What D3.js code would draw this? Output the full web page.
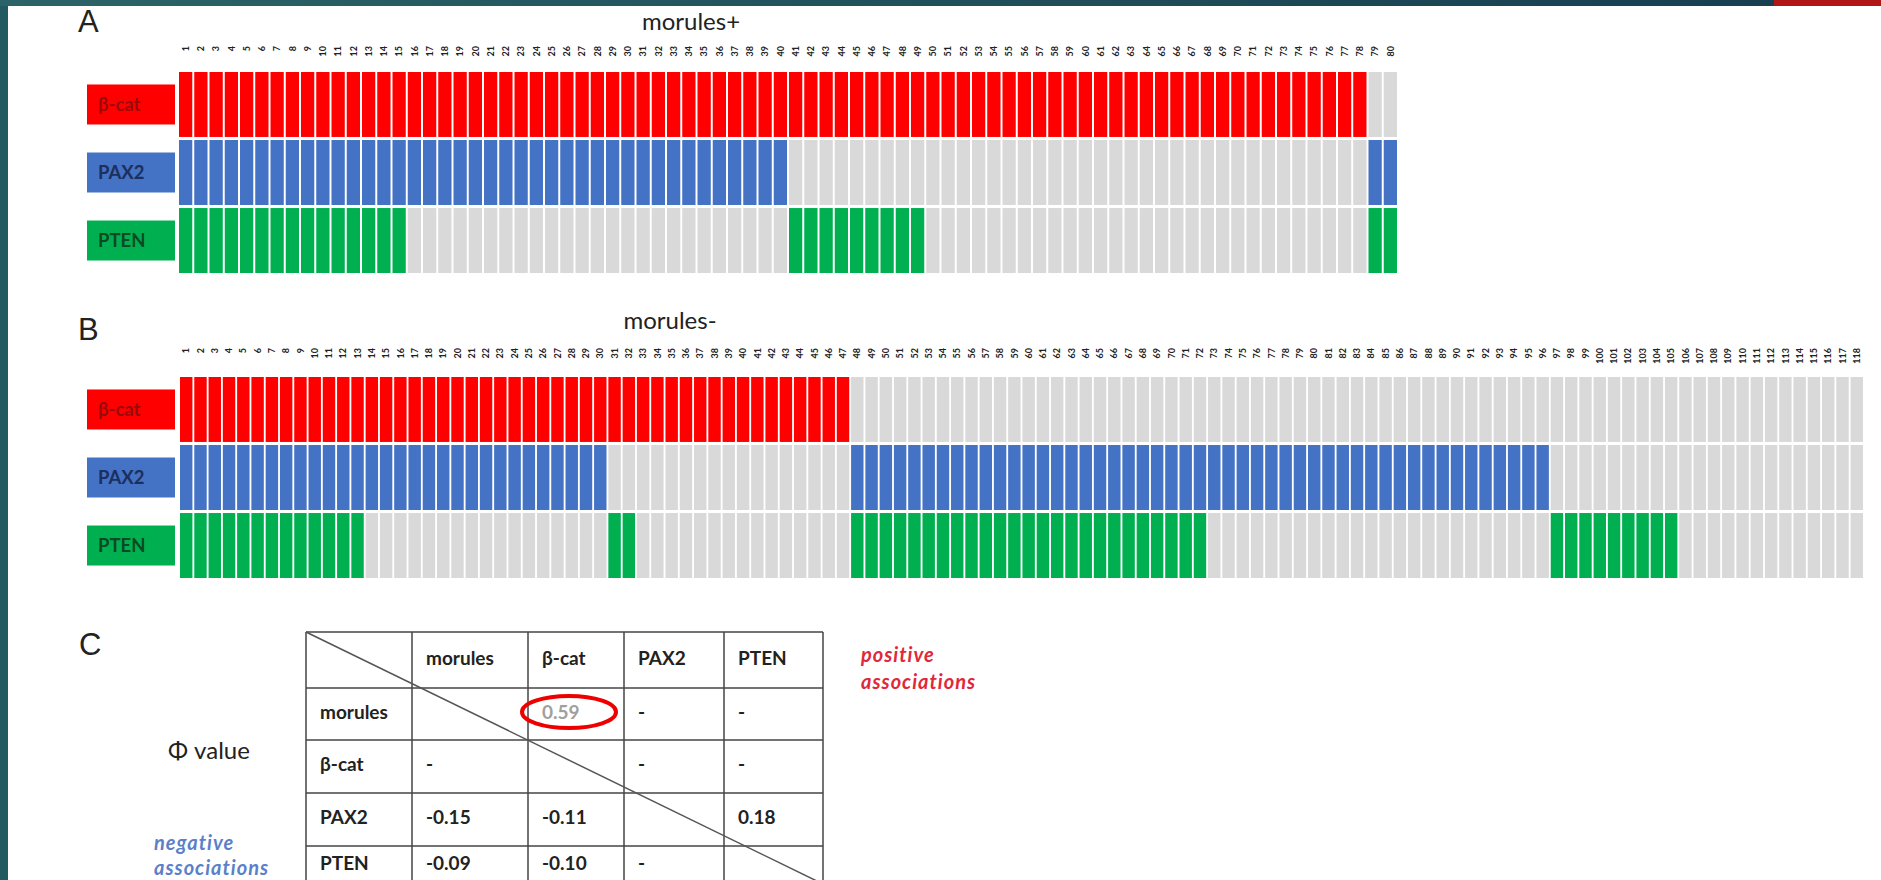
<!DOCTYPE html>
<html>
<head>
<meta charset="utf-8">
<script src="https://cdn.jsdelivr.net/npm/d3@7"></script>
<style>
  html, body { margin: 0; padding: 0; background: #ffffff; overflow: hidden; }
  svg { display: block; }
</style>
</head>
<body>
<svg id="chart"></svg>
<script>

/////////////////////////////////
// DATA
//////////////////////////////////

// one character per case: 1 = positive (coloured), 0 = negative (grey)
var genes = ["β-cat", "PAX2", "PTEN"];

var morulesPos_bcat = "11111111111111111111111111111111111111111111111111111111111111111111111111111100";
var morulesPos_pax2 = "11111111111111111111111111111111111111110000000000000000000000000000000000000011";
var morulesPos_pten = "11111111111111100000000000000000000000001111111110000000000000000000000000000011";

var morulesNeg_bcat = "1111111111111111111111111111111111111111111111100000000000000000000000000000000000000000000000000000000000000000000000";
var morulesNeg_pax2 = "1111111111111111111111111111110000000000000000011111111111111111111111111111111111111111111111110000000000000000000000";
var morulesNeg_pten = "1111111111111000000000000000001100000000000000011111111111111111111111110000000000000000000000001111111110000000000000";

// phi values table
var tableHeaders = ["morules", "β-cat", "PAX2", "PTEN"];
var phiMorules = ["", "0.59", "-", "-"];
var phiBcat = ["-", "", "-", "-"];
var phiPax2 = ["-0.15", "-0.11", "", "0.18"];
var phiPten = ["-0.09", "-0.10", "-", ""];

/////////////////////////////////
// SET STATIC VARIABLES
//////////////////////////////////

var width = 1881;
var height = 880;

var geneColors = ["#ff0000", "#4472c4", "#00b050"];
var geneTextColors = ["#9b0a0a", "#1c2f5e", "#0b4a22"];
var emptyColor = "#d9d9d9";

var svg = d3.select("#chart")
    .attr("width", width)
    .attr("height", height);

// slide frame
var defs = svg.append("defs");
var grad = defs.append("linearGradient").attr("id", "topbar");
grad.append("stop").attr("offset", "0%").attr("stop-color", "#2b6468");
grad.append("stop").attr("offset", "100%").attr("stop-color", "#173f50");

svg.append("rect").attr("x", 0).attr("y", 0).attr("width", 8).attr("height", height).attr("fill", "#215a60");
svg.append("rect").attr("x", 0).attr("y", 0).attr("width", 1774).attr("height", 6).attr("fill", "url(#topbar)");
svg.append("rect").attr("x", 1774).attr("y", 0).attr("width", width - 1774).attr("height", 6).attr("fill", "#b01616");

/////////////////////////////////
// HEATMAP PANELS
//////////////////////////////////

function drawPanel(p) {
    var rows = p.rows.map(function(s) { return s.split("").map(Number); });
    var n = rows[0].length;
    var cases = d3.range(1, n + 1);

    var x = d3.scaleBand()
        .domain(cases)
        .range([p.x0, p.x1])
        .paddingInner(0.13);

    var y = d3.scaleBand()
        .domain(genes)
        .range([p.y0, p.y1])
        .paddingInner(0.045);

    var g = svg.append("g");

    // panel letter and title
    g.append("text")
        .attr("x", 78)
        .attr("y", p.letterY)
        .attr("font-family", "Liberation Sans, Arial, sans-serif")
        .attr("font-size", 31)
        .attr("fill", "#222")
        .text(p.letter);

    g.append("text")
        .attr("x", p.titleX)
        .attr("y", p.titleY)
        .attr("text-anchor", "middle")
        .attr("font-family", "Lato, sans-serif")
        .attr("font-size", 24)
        .attr("fill", "#222")
        .text(p.title);

    // case numbers
    g.selectAll(".tick")
        .data(cases)
        .enter().append("text")
        .attr("transform", function(d) {
            return "translate(" + (x(d) + x.bandwidth() / 2) + "," + p.tickY + ") rotate(-90)";
        })
        .attr("text-anchor", "end")
        .attr("dy", "0.35em")
        .attr("font-family", "Lato, sans-serif")
        .attr("font-weight", "bold")
        .attr("font-size", 9)
        .attr("fill", "#222")
        .text(function(d) { return d; });

    // row labels and cells
    genes.forEach(function(gene, i) {
        var cy = y(gene) + y.bandwidth() / 2;
        g.append("rect")
            .attr("x", 87)
            .attr("y", cy - 20)
            .attr("width", 88)
            .attr("height", 40)
            .attr("fill", geneColors[i]);
        g.append("text")
            .attr("x", 98)
            .attr("y", cy)
            .attr("dy", "0.35em")
            .attr("font-family", "Lato, sans-serif")
            .attr("font-weight", "bold")
            .attr("font-size", 18.5)
            .attr("fill", geneTextColors[i])
            .text(gene);

        g.selectAll(".cell" + i)
            .data(rows[i])
            .enter().append("rect")
            .attr("x", function(d, j) { return x(cases[j]); })
            .attr("y", y(gene))
            .attr("width", x.bandwidth())
            .attr("height", y.bandwidth())
            .attr("fill", function(d) { return d ? geneColors[i] : emptyColor; });
    });
}

drawPanel({
    letter: "A", letterY: 32,
    title: "morules+", titleX: 691, titleY: 30,
    x0: 179, x1: 1397, y0: 72, y1: 273, tickY: 46,
    rows: [morulesPos_bcat, morulesPos_pax2, morulesPos_pten]
});

drawPanel({
    letter: "B", letterY: 340,
    title: "morules-", titleX: 670, titleY: 329,
    x0: 180, x1: 1863, y0: 377, y1: 578, tickY: 348,
    rows: [morulesNeg_bcat, morulesNeg_pax2, morulesNeg_pten]
});

/////////////////////////////////
// PHI TABLE
//////////////////////////////////

var tableRows = [phiMorules, phiBcat, phiPax2, phiPten];
var colWidths = [106, 116, 96, 100, 99];
var rowHeights = [56, 52, 53, 53, 38];
var tableLeft = 306, tableTop = 632;

var colX = [tableLeft];
colWidths.forEach(function(w, i) { colX.push(colX[i] + w); });
var rowY = [tableTop];
rowHeights.forEach(function(h, i) { rowY.push(rowY[i] + h); });
var tableRight = colX[colX.length - 1];
var tableBottom = rowY[rowY.length - 1];

var tg = svg.append("g");

tg.append("text")
    .attr("x", 79).attr("y", 655)
    .attr("font-family", "Liberation Sans, Arial, sans-serif")
    .attr("font-size", 31)
    .attr("fill", "#222")
    .text("C");

rowY.forEach(function(ry) {
    tg.append("line")
        .attr("x1", tableLeft).attr("x2", tableRight)
        .attr("y1", ry).attr("y2", ry)
        .attr("stroke", "#444").attr("stroke-width", 1.5);
});
colX.forEach(function(cx) {
    tg.append("line")
        .attr("x1", cx).attr("x2", cx)
        .attr("y1", tableTop).attr("y2", tableBottom)
        .attr("stroke", "#444").attr("stroke-width", 1.5);
});
tg.append("line")
    .attr("x1", tableLeft).attr("y1", tableTop)
    .attr("x2", tableRight).attr("y2", tableBottom)
    .attr("stroke", "#555").attr("stroke-width", 1.5);

function cellText(txt, c, r, color) {
    tg.append("text")
        .attr("x", colX[c] + 14)
        .attr("y", rowY[r] + rowHeights[r] / 2 - 2)
        .attr("dy", "0.35em")
        .attr("font-family", "Lato, sans-serif")
        .attr("font-weight", "bold")
        .attr("font-size", 19)
        .attr("fill", color || "#222")
        .text(txt);
}

tableHeaders.forEach(function(h, i) {
    cellText(h, i + 1, 0);
    cellText(h, 0, i + 1);
});
tableRows.forEach(function(row, r) {
    row.forEach(function(v, c) {
        if (v === "") return;
        var color = (r === 0 && c === 1) ? "#a0a0a0" : "#222";
        cellText(v, c + 1, r + 1, color);
    });
});

// highlight ring round the strongest association
tg.append("ellipse")
    .attr("cx", colX[2] + 41)
    .attr("cy", rowY[1] + rowHeights[1] / 2 - 2)
    .attr("rx", 47)
    .attr("ry", 16)
    .attr("fill", "none")
    .attr("stroke", "#ee0000")
    .attr("stroke-width", 4);

tg.append("text")
    .attr("x", 168).attr("y", 759)
    .attr("font-family", "Lato, sans-serif")
    .attr("font-size", 24)
    .attr("fill", "#222")
    .text("Φ value");

var neg = tg.append("text")
    .attr("font-family", "Lato, sans-serif")
    .attr("font-weight", "bold")
    .attr("font-style", "italic")
    .attr("font-size", 20)
    .attr("letter-spacing", 1)
    .attr("fill", "#5b7fca");
neg.append("tspan").attr("x", 154).attr("y", 850).text("negative");
neg.append("tspan").attr("x", 154).attr("y", 875).text("associations");

var pos = tg.append("text")
    .attr("font-family", "Lato, sans-serif")
    .attr("font-weight", "bold")
    .attr("font-style", "italic")
    .attr("font-size", 20)
    .attr("letter-spacing", 1)
    .attr("fill", "#e0283a");
pos.append("tspan").attr("x", 861).attr("y", 662).text("positive");
pos.append("tspan").attr("x", 861).attr("y", 689).text("associations");

</script>
</body>
</html>
